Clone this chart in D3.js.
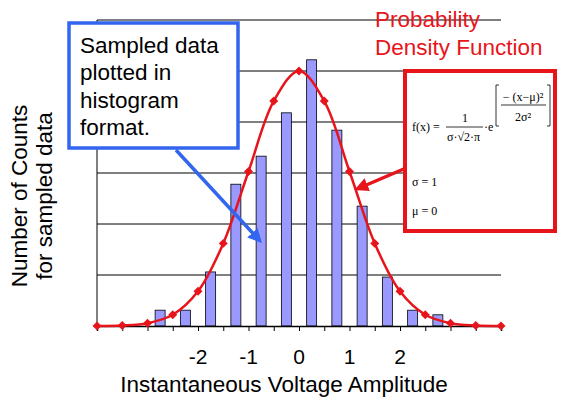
<!DOCTYPE html><html><head><meta charset="utf-8"><script src="https://cdn.jsdelivr.net/npm/d3@7"></script>
<style>body{margin:0;background:#fff}text{font-family:Arial,"Liberation Sans",sans-serif}text.m{font-family:"Liberation Serif",serif}</style></head><body><svg width="576" height="407"></svg><script>
const binCenters=[-2.75,-2.25,-1.75,-1.25,-0.75,-0.25,0.25,0.75,1.25,1.75,2.25,2.75];
const counts=[0.31,0.31,1.06,2.78,3.33,4.18,5.22,3.84,2.35,0.96,0.31,0.22];
const pdfX=[-4,-3.5,-3,-2.5,-2,-1.5,-1,-0.5,0,0.5,1,1.5,2,2.5,3,3.5,4];
const pdfY=[0.002,0.011,0.055,0.22,0.68,1.62,3.03,4.41,5,4.41,3.03,1.62,0.68,0.22,0.055,0.011,0.002];
const tickLabels=[-2,-1,0,1,2];
const svg=d3.select("svg");
const x=d3.scaleLinear().domain([-4,4]).range([97,501]);
const y=d3.scaleLinear().domain([0,6]).range([326,20]);
svg.append("g").selectAll("line").data([1,2,3,4,5,6]).join("line")
 .attr("x1",97).attr("x2",501).attr("y1",d=>y(d)).attr("y2",d=>y(d)).attr("stroke","#000").attr("stroke-width",1);
svg.append("line").attr("x1",97).attr("x2",97).attr("y1",y(0)).attr("y2",y(6)).attr("stroke","#000");
svg.append("g").selectAll("rect").data(binCenters).join("rect")
 .attr("x",(d)=>x(d)-5).attr("width",10).attr("y",(d,i)=>y(counts[i])).attr("height",(d,i)=>y(0)-y(counts[i]))
 .attr("fill","#9999ff").attr("stroke","#000").attr("stroke-width",0.8);
const ax=svg.append("g").attr("transform","translate(0,326)").call(d3.axisBottom(x).tickValues(d3.range(-3.5,4,0.5)).tickSize(5).tickFormat(""));
ax.select(".domain").attr("stroke-width",1.5);
svg.append("g").selectAll("text").data(tickLabels).join("text").attr("x",d=>x(d)).attr("y",364).attr("text-anchor","middle").attr("font-size",21).text(d=>d<0?"-"+Math.abs(d):d);
const line=d3.line().x(d=>x(d[0])).y(d=>y(d[1])).curve(d3.curveCatmullRom);
const pts=pdfX.map((v,i)=>[v,pdfY[i]]);
svg.append("path").attr("d",line(pts)).attr("fill","none").attr("stroke","#e8141c").attr("stroke-width",2.5);
svg.append("g").selectAll("path").data(pts).join("path").attr("transform",d=>`translate(${x(d[0])},${y(d[1])}) rotate(45)`)
 .attr("d",d3.symbol(d3.symbolSquare,40)).attr("fill","#e8141c");
svg.append("text").attr("x",284).attr("y",392).attr("text-anchor","middle").attr("font-size",22.5).text("Instantaneous Voltage Amplitude");
const yt=svg.append("text").attr("transform","translate(27,196) rotate(-90)").attr("text-anchor","middle").attr("font-size",22.5);
yt.append("tspan").attr("x",0).attr("dy",0).text("Number of Counts");
yt.append("tspan").attr("x",0).attr("dy",25).text("for sampled data");
svg.append("rect").attr("x",69).attr("y",23).attr("width",169).attr("height",125).attr("fill","#fff").attr("stroke","#3366ee").attr("stroke-width",3.5);
["Sampled data","plotted in","histogram","format."].forEach((t,i)=>svg.append("text").attr("x",80).attr("y",53+i*27.3).attr("font-size",22.5).text(t));
svg.append("defs").html('<marker id="ab" viewBox="0 0 10 10" refX="8" refY="5" markerWidth="4" markerHeight="4" orient="auto"><path d="M0,0L10,5L0,10z" fill="#3366ee"/></marker><marker id="ar" viewBox="0 0 10 10" refX="8" refY="5" markerWidth="4" markerHeight="4" orient="auto"><path d="M0,0L10,5L0,10z" fill="#e8141c"/></marker>');
svg.append("line").attr("x1",176).attr("y1",150).attr("x2",260).attr("y2",241).attr("stroke","#3366ee").attr("stroke-width",3.5).attr("marker-end","url(#ab)");
svg.append("text").attr("x",375).attr("y",27).attr("font-size",22.5).attr("fill","#e8141c").text("Probability");
svg.append("text").attr("x",375).attr("y",55).attr("font-size",22.5).attr("fill","#e8141c").text("Density Function");
svg.append("line").attr("x1",406).attr("y1",168).attr("x2",357).attr("y2",189).attr("stroke","#e8141c").attr("stroke-width",3.5).attr("marker-end","url(#ar)");
svg.append("rect").attr("x",405).attr("y",71).attr("width",150).attr("height",160).attr("fill","#fff").attr("stroke","#e8141c").attr("stroke-width",4);
const f=svg.append("g").attr("font-size",12);
const t=(xx,yy,s,a)=>f.append("text").attr("class","m").attr("x",xx).attr("y",yy).attr("text-anchor",a||"start").text(s);
t(412,131,"f(x) =");
t(465,122,"1","middle");
f.append("line").attr("x1",446).attr("x2",483).attr("y1",127).attr("y2",127).attr("stroke","#000").attr("stroke-width",0.8);
t(447,141,"σ·√2·π");
t(484,131,"·e");
f.append("path").attr("d","M499,85h-3v41h3M547,85h3v41h-3").attr("fill","none").attr("stroke","#000").attr("stroke-width",0.8);
t(523,101,"− (x−μ)²","middle");
f.append("line").attr("x1",501).attr("x2",546).attr("y1",105).attr("y2",105).attr("stroke","#000").attr("stroke-width",0.8);
t(523,121,"2σ²","middle");
t(412,186,"σ = 1");
t(412,215,"μ = 0");
</script></body></html>
